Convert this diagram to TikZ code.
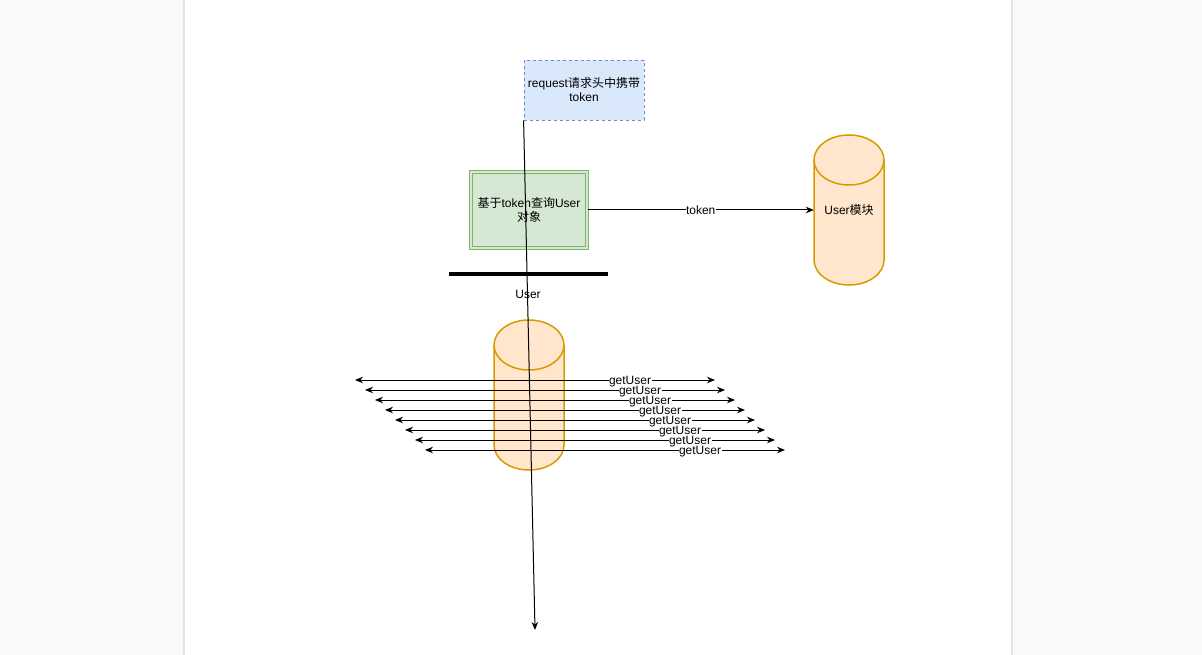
\documentclass[tikz,border=0pt]{standalone}
\usepackage{fontspec}
\setmainfont{Liberation Sans}
\newfontfamily\cjk{Noto Sans CJK SC}
\usetikzlibrary{arrows.meta}
\definecolor{bgc}{HTML}{F8F9FA}
\definecolor{edgec}{HTML}{E2E4E7}
\definecolor{bfill}{HTML}{DAE8FC}
\definecolor{bstroke}{HTML}{6C8EBF}
\definecolor{gfill}{HTML}{D5E8D4}
\definecolor{gstroke}{HTML}{82B366}
\definecolor{ofill}{HTML}{FFE6CC}
\definecolor{ostroke}{HTML}{D79B00}
\newcommand\mycyl[2]{%
  \path[fill=ofill,draw=ostroke,line width=1.5pt]
    (#1,#2+25) -- (#1,#2+125)
    arc[start angle=180,end angle=0,x radius=35,y radius=25]
    -- (#1+70,#2+25)
    arc[start angle=0,end angle=-180,x radius=35,y radius=25] -- cycle;
  \draw[ostroke,line width=1.5pt] (#1,#2+25)
    arc[start angle=180,end angle=0,x radius=35,y radius=25];
}
\tikzset{
  conn/.style={line width=1pt,-{Stealth[length=8pt,width=6.5pt]}},
  dconn/.style={line width=1pt,{Stealth[length=8pt,width=6.5pt]}-{Stealth[length=8pt,width=6.5pt]}},
  elabel/.style={fill=white,inner sep=0.5pt},
}
\begin{document}
\begin{tikzpicture}[x=1pt,y=-1pt,font=\fontsize{12}{14}\selectfont]
\fill[bgc] (0,0) rectangle (1202,655);
\useasboundingbox (0,0) rectangle (1202,655);
\fill[white] (184,0) rectangle (1012,655);
\draw[edgec,line width=1.2pt] (184,0) -- (184,655);
\draw[edgec,line width=1.2pt] (1012,0) -- (1012,655);

% request box
\node[draw=bstroke,dash pattern=on 3pt off 3pt,fill=bfill,line width=0.8pt,
      minimum width=120,minimum height=60,inner sep=0,align=center]
  (req) at (584,90) {request{\cjk 请求头中携带}\\token};

% green box
\node[draw=gstroke,double=gfill,double distance=2pt,line width=0.8pt,fill=gfill,
      minimum width=116.4,minimum height=76.4,inner sep=0,align=center]
  (query) at (529,210) {{\cjk 基于}token{\cjk 查询}User\\{\cjk 对象}};

% right cylinder
\mycyl{814}{135}
\node[minimum width=70,minimum height=150,inner sep=0] (mod) at (849,210) {User{\cjk 模块}};

\draw[conn] (query.east) -- (mod.west) node[midway,elabel] {token};

% thick bar
\draw[line width=3.5pt] (449,274) -- (608,274);
\node (userlbl) at (528,294) {User};

% middle cylinder
\mycyl{494}{320}
\node[minimum width=70,minimum height=150,inner sep=0] (store) at (529,395) {};

% getUser arrows
\foreach \i in {0,...,7}{
  \coordinate (gl\i) at (355+10*\i,380+10*\i);
  \coordinate (gr\i) at (715+10*\i,380+10*\i);
  \draw[dconn] (gl\i) -- (gr\i) node[pos=0.764,elabel,yshift=-2pt] {getUser};
}

% long arrow
\coordinate (endp) at (535,630);
\draw[conn] (req.south west) -- (endp);
\end{tikzpicture}
\end{document}
